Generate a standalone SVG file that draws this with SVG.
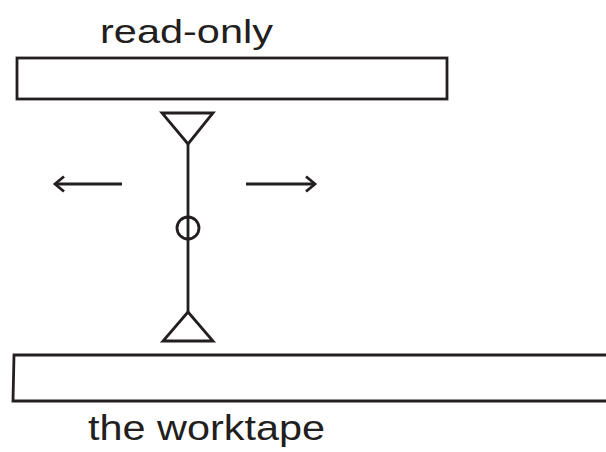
<svg xmlns="http://www.w3.org/2000/svg" width="606" height="452" viewBox="0 0 606 452">
<style>
.s{fill:none;stroke:#231f20;stroke-width:2.8;stroke-linejoin:miter}
.t{font-family:"Liberation Sans",Arial,sans-serif;fill:#231f20}
</style>
<defs>
<marker id="ah" markerUnits="userSpaceOnUse" markerWidth="20" markerHeight="20" refX="12" refY="10" orient="auto">
<path d="M3,2.5 L12,10 L3,17.5" fill="none" stroke="#231f20" stroke-width="2.8"/>
</marker>
</defs>
<rect width="606" height="452" fill="#fff"/>
<g id="readonly">
<rect class="s" x="17" y="58" width="430" height="41" stroke-width="3"/>
<text class="t" x="100" y="43" font-size="33" textLength="173" lengthAdjust="spacingAndGlyphs">read-only</text>
</g>
<g id="worktape">
<polyline class="s" points="607,355 14,355 13,401 607,401" stroke-width="3"/>
<text class="t" x="88" y="440" font-size="35" textLength="237" lengthAdjust="spacingAndGlyphs">the worktape</text>
</g>
<g id="head">
<polygon class="s" points="162,113 213,113 188,144"/>
<polygon class="s" points="188,312 163,341 213,341"/>
<circle class="s" cx="188" cy="228" r="11"/>
</g>
<g id="connectors">
<line class="s" x1="188" y1="144" x2="188" y2="312"/>
<line class="s" x1="122" y1="184" x2="55" y2="184" marker-end="url(#ah)"/>
<line class="s" x1="246" y1="184" x2="315" y2="184" marker-end="url(#ah)"/>
</g>
</svg>
